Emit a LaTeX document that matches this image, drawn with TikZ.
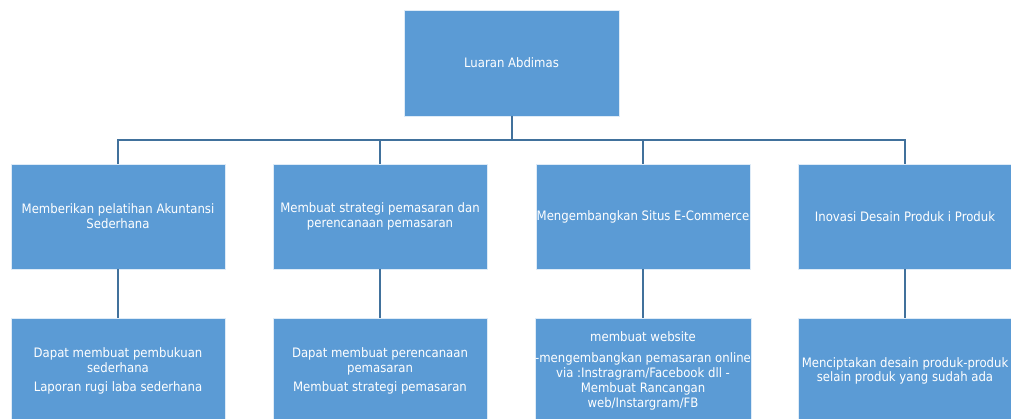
\documentclass[tikz,border=0pt]{standalone}
\usepackage{fontspec}
\setmainfont{DejaVu Sans}[FakeStretch=0.9]
\definecolor{boxfill}{HTML}{5B9BD5}
\definecolor{linecol}{HTML}{41719C}
\tikzset{
  obox/.style={rectangle, fill=boxfill, draw=white!80!boxfill, line width=0.6pt,
    minimum width=214pt, minimum height=105pt, inner sep=0pt, align=center,
    text=white, font=\fontsize{13pt}{14.8pt}\selectfont},
  conn/.style={draw=linecol, line width=2pt}
}
\begin{document}
\begin{tikzpicture}[x=1pt,y=-1pt]
\useasboundingbox (0,0) rectangle (1011,418);
\clip (0,0) rectangle (1011,418);
\node[obox, minimum width=215pt, minimum height=106pt] (top) at (511.5,63) {Luaran Abdimas};
\node[obox] (a1) at (118,216.5) {Memberikan pelatihan Akuntansi\\Sederhana};
\node[obox] (a2) at (380,216.5) {Membuat strategi pemasaran dan\\perencanaan pemasaran};
\node[obox] (a3) at (643,216.5) {Mengembangkan Situs E-Commerce};
\node[obox] (a4) at (905,216.5) {Inovasi Desain Produk i Produk};
\node[obox, minimum height=106pt] (b1) at (118,371) {Dapat membuat pembukuan\\sederhana\\[5pt]Laporan rugi laba sederhana};
\node[obox, minimum height=106pt] (b2) at (380,371) {Dapat membuat perencanaan\\pemasaran\\[5pt]Membuat strategi pemasaran};
\node[obox, minimum height=106pt] (b3) at (643,371) {membuat website\\[6pt]-mengembangkan pemasaran online\\via :Instragram/Facebook dll -\\Membuat Rancangan\\web/Instargram/FB};
\node[obox, minimum height=106pt] (b4) at (905,371) {Menciptakan desain produk-produk\\selain produk yang sudah ada};
\coordinate (bus) at (511.5,140);
\draw[conn] (top.south) -- (bus);
\draw[conn] (bus) -| (a1.north);
\draw[conn] (bus) -| (a2.north);
\draw[conn] (bus) -| (a3.north);
\draw[conn] (bus) -| (a4.north);
\draw[conn] (a1.south) -- (b1.north);
\draw[conn] (a2.south) -- (b2.north);
\draw[conn] (a3.south) -- (b3.north);
\draw[conn] (a4.south) -- (b4.north);
\end{tikzpicture}
\end{document}
